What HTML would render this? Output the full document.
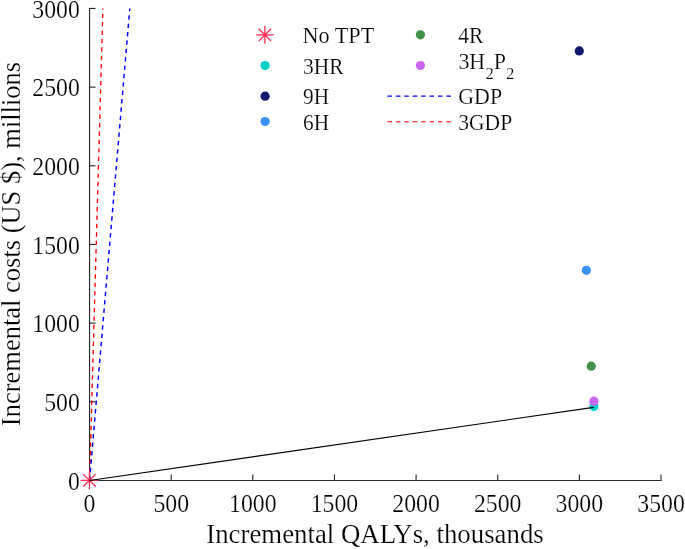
<!DOCTYPE html>
<html><head><meta charset="utf-8"><style>
html,body{margin:0;padding:0;background:#fff;width:685px;height:549px;overflow:hidden}
body{position:relative;font-family:"Liberation Serif",serif}
svg{will-change:transform}
</style></head><body>
<svg width="685" height="549" viewBox="0 0 685 549" style="position:absolute;left:0;top:0"><path d="M89.55 8.46 V480.46 H661.01" fill="none" stroke="#2a2a2a" stroke-width="1.15" stroke-linecap="square"/><line x1="89.55" y1="480.46" x2="95.55" y2="480.46" stroke="#2a2a2a" stroke-width="1.15"/><line x1="89.55" y1="401.79" x2="95.55" y2="401.79" stroke="#2a2a2a" stroke-width="1.15"/><line x1="89.55" y1="323.13" x2="95.55" y2="323.13" stroke="#2a2a2a" stroke-width="1.15"/><line x1="89.55" y1="244.46" x2="95.55" y2="244.46" stroke="#2a2a2a" stroke-width="1.15"/><line x1="89.55" y1="165.79" x2="95.55" y2="165.79" stroke="#2a2a2a" stroke-width="1.15"/><line x1="89.55" y1="87.13" x2="95.55" y2="87.13" stroke="#2a2a2a" stroke-width="1.15"/><line x1="89.55" y1="8.46" x2="95.55" y2="8.46" stroke="#2a2a2a" stroke-width="1.15"/><line x1="89.55" y1="480.46" x2="89.55" y2="474.46" stroke="#2a2a2a" stroke-width="1.15"/><line x1="171.19" y1="480.46" x2="171.19" y2="474.46" stroke="#2a2a2a" stroke-width="1.15"/><line x1="252.82" y1="480.46" x2="252.82" y2="474.46" stroke="#2a2a2a" stroke-width="1.15"/><line x1="334.46" y1="480.46" x2="334.46" y2="474.46" stroke="#2a2a2a" stroke-width="1.15"/><line x1="416.10" y1="480.46" x2="416.10" y2="474.46" stroke="#2a2a2a" stroke-width="1.15"/><line x1="497.73" y1="480.46" x2="497.73" y2="474.46" stroke="#2a2a2a" stroke-width="1.15"/><line x1="579.37" y1="480.46" x2="579.37" y2="474.46" stroke="#2a2a2a" stroke-width="1.15"/><line x1="661.01" y1="480.46" x2="661.01" y2="474.46" stroke="#2a2a2a" stroke-width="1.15"/><line x1="89.55" y1="480.46" x2="102.9" y2="8.46" stroke="#ff0000" stroke-width="1.35" stroke-dasharray="4.4 4.01"/><line x1="89.55" y1="480.46" x2="129.8" y2="8.46" stroke="#0000ff" stroke-width="1.45" stroke-dasharray="4.4 4.01"/><path d="M80.65 480.35H98.25M89.45 471.55V489.15000000000003M83.22752 474.12752L95.67248000000001 486.57248000000004M83.22752 486.57248000000004L95.67248000000001 474.12752" stroke="#ff2a50" stroke-width="1.3" fill="none"/><circle cx="593.9" cy="406.4" r="4.6" fill="#02d0c7"/><circle cx="579.3" cy="50.9" r="4.6" fill="#0f1a6e"/><circle cx="586.35" cy="270.3" r="4.6" fill="#3c92fe"/><circle cx="591.25" cy="366.2" r="4.6" fill="#41914a"/><circle cx="593.9" cy="401.2" r="4.6" fill="#c866f0"/><line x1="89.55" y1="480.46" x2="593.6" y2="407.4" stroke="#000" stroke-width="1.1"/><path d="M256.09999999999997 34.9H273.7M264.9 26.099999999999998V43.7M258.67751999999996 28.677519999999998L271.12248 41.122479999999996M258.67751999999996 41.122479999999996L271.12248 28.677519999999998" stroke="#ff2a50" stroke-width="1.3" fill="none"/><circle cx="265.1" cy="65.5" r="4.6" fill="#02d0c7"/><circle cx="265.1" cy="96.2" r="4.6" fill="#0f1a6e"/><circle cx="265.1" cy="121.5" r="4.6" fill="#3c92fe"/><circle cx="420.4" cy="34.8" r="4.6" fill="#41914a"/><circle cx="420.4" cy="65.5" r="4.6" fill="#c866f0"/><line x1="387.4" y1="96.0" x2="451.1" y2="96.0" stroke="#0000ff" stroke-width="1.25" stroke-dasharray="4.6 3.82"/><line x1="387.4" y1="121.8" x2="451.1" y2="121.8" stroke="#ff0000" stroke-width="1.1" stroke-dasharray="4.6 3.82"/><g font-family='"Liberation Serif", serif' fill="#000" stroke="#fff" stroke-width="0.2"><text transform="translate(79.80 489.56) scale(0.99 1.03)" font-size="24" text-anchor="end">0</text><text transform="translate(79.80 410.89) scale(0.99 1.03)" font-size="24" text-anchor="end">500</text><text transform="translate(79.80 332.23) scale(0.99 1.03)" font-size="24" text-anchor="end">1000</text><text transform="translate(79.80 253.56) scale(0.99 1.03)" font-size="24" text-anchor="end">1500</text><text transform="translate(79.80 174.89) scale(0.99 1.03)" font-size="24" text-anchor="end">2000</text><text transform="translate(79.80 96.23) scale(0.99 1.03)" font-size="24" text-anchor="end">2500</text><text transform="translate(79.80 17.56) scale(0.99 1.03)" font-size="24" text-anchor="end">3000</text><text transform="translate(89.55 512.35) scale(0.99 1.03)" font-size="24" text-anchor="middle">0</text><text transform="translate(171.19 512.35) scale(0.99 1.03)" font-size="24" text-anchor="middle">500</text><text transform="translate(252.82 512.35) scale(0.99 1.03)" font-size="24" text-anchor="middle">1000</text><text transform="translate(334.46 512.35) scale(0.99 1.03)" font-size="24" text-anchor="middle">1500</text><text transform="translate(416.10 512.35) scale(0.99 1.03)" font-size="24" text-anchor="middle">2000</text><text transform="translate(497.73 512.35) scale(0.99 1.03)" font-size="24" text-anchor="middle">2500</text><text transform="translate(579.37 512.35) scale(0.99 1.03)" font-size="24" text-anchor="middle">3000</text><text transform="translate(661.01 512.35) scale(0.99 1.03)" font-size="24" text-anchor="middle">3500</text><text transform="translate(375.00 543.20)" font-size="26.8" text-anchor="middle">Incremental QALYs, thousands</text><text transform="translate(19.80 244.00) rotate(-90)" font-size="26.5" text-anchor="middle">Incremental costs (US $), millions</text><text transform="translate(302.50 43.40) scale(0.987 1.034)" font-size="22.5" text-anchor="start">No TPT</text><text transform="translate(303.00 74.20) scale(0.955 1.005)" font-size="22.5" text-anchor="start">3HR</text><text transform="translate(303.00 103.90) scale(0.95 0.99)" font-size="22.5" text-anchor="start">9H</text><text transform="translate(303.00 129.60) scale(0.95 1.03)" font-size="22.5" text-anchor="start">6H</text><text transform="translate(458.30 43.00) scale(0.96 1.03)" font-size="22.5" text-anchor="start">4R</text><text transform="translate(458.4 68.5) scale(0.975 1.03)" font-size="22.5">3H<tspan font-size="17.2" dy="10.6" dx="0.2">2</tspan><tspan dy="-10.6" dx="0">P</tspan><tspan font-size="17.2" dy="10.6" dx="0.1">2</tspan></text><text transform="translate(458.30 104.30) scale(0.973 1.01)" font-size="22.5" text-anchor="start">GDP</text><text transform="translate(458.30 130.20) scale(0.957 1.05)" font-size="22.5" text-anchor="start">3GDP</text></g></svg>
</body></html>
